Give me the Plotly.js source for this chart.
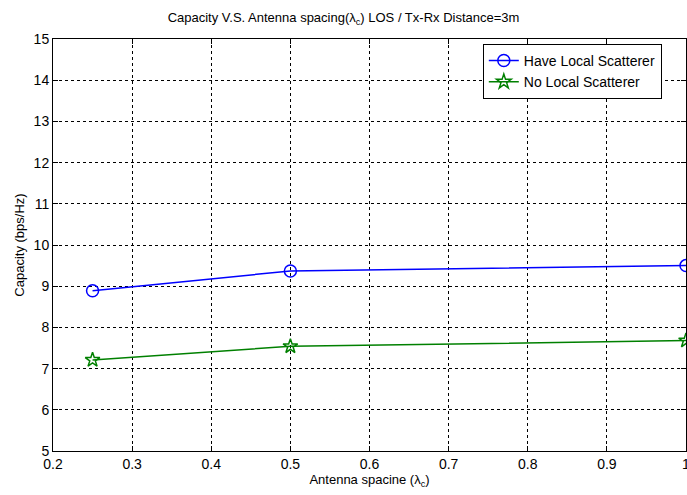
<!DOCTYPE html>
<html>
<head>
<meta charset="utf-8">
<script src="https://cdn.plot.ly/plotly-3.0.1.min.js"></script>
<style>html,body{margin:0;padding:0;background:#fff;}#chart{width:687px;height:495px;}</style>
</head>
<body>
<div id="chart"></div>
<script>
const spacing = [0.25, 0.5, 1];
const haveLocal = [8.89, 9.37, 9.50];
const noLocal = [7.21, 7.54, 7.68];
const seriesNames = ["Have Local Scatterer", "No Local Scatterer"];
const xTicks = [0.2, 0.3, 0.4, 0.5, 0.6, 0.7, 0.8, 0.9, 1];
const xTickText = ["0.2", "0.3", "0.4", "0.5", "0.6", "0.7", "0.8", "0.9", "1"];
const yTicks = [5, 6, 7, 8, 9, 10, 11, 12, 13, 14, 15];

const font = "Liberation Sans, Arial, sans-serif";
const traces = [
  {x: spacing, y: haveLocal, name: seriesNames[0], mode: "lines+markers",
   line: {color: "#0000ff", width: 1.5},
   marker: {symbol: "circle-open", size: 12, color: "#0000ff", line: {width: 1.5}}},
  {x: spacing, y: noLocal, name: seriesNames[1], mode: "lines+markers",
   line: {color: "#008000", width: 1.5},
   marker: {symbol: "star-open", size: 11, color: "#008000", line: {width: 1.5}}}
];
const axisCommon = {
  showline: true, linecolor: "#000", linewidth: 1, mirror: "ticks",
  ticks: "inside", ticklen: 5, tickcolor: "#000",
  showgrid: true, gridcolor: "#000", griddash: "dot", gridwidth: 1,
  zeroline: false, tickfont: {family: font, size: 14, color: "#000"},
  ticklabeloverflow: "allow"
};
const layout = {
  width: 687, height: 495,
  margin: {l: 53, r: 1, t: 39, b: 44},
  paper_bgcolor: "#fff", plot_bgcolor: "#fff",
  font: {family: font, color: "#000"},
  title: {text: "Capacity V.S. Antenna spacing(λ<sub>c</sub>) LOS / Tx-Rx Distance=3m",
          font: {family: font, size: 13, color: "#000"}, x: 0.5, xanchor: "center", y: 0.965, yanchor: "middle"},
  xaxis: Object.assign({}, axisCommon, {range: [0.2, 1], tickvals: xTicks, ticktext: xTickText,
          title: {text: "Antenna spacine (λ<sub>c</sub>)", font: {family: font, size: 13}, standoff: 2}}),
  yaxis: Object.assign({}, axisCommon, {range: [5, 15], tickvals: yTicks,
          title: {text: "Capacity (bps/Hz)", font: {family: font, size: 13}, standoff: 6}}),
  legend: {x: 0.679, y: 0.988, xanchor: "left", yanchor: "top",
           bgcolor: "#fff", bordercolor: "#000", borderwidth: 1,
           font: {family: font, size: 14, color: "#000"}, tracegroupgap: 0, itemwidth: 30},
  showlegend: true
};
Plotly.newPlot("chart", traces, layout, {displayModeBar: false, staticPlot: true});
</script>
</body>
</html>
